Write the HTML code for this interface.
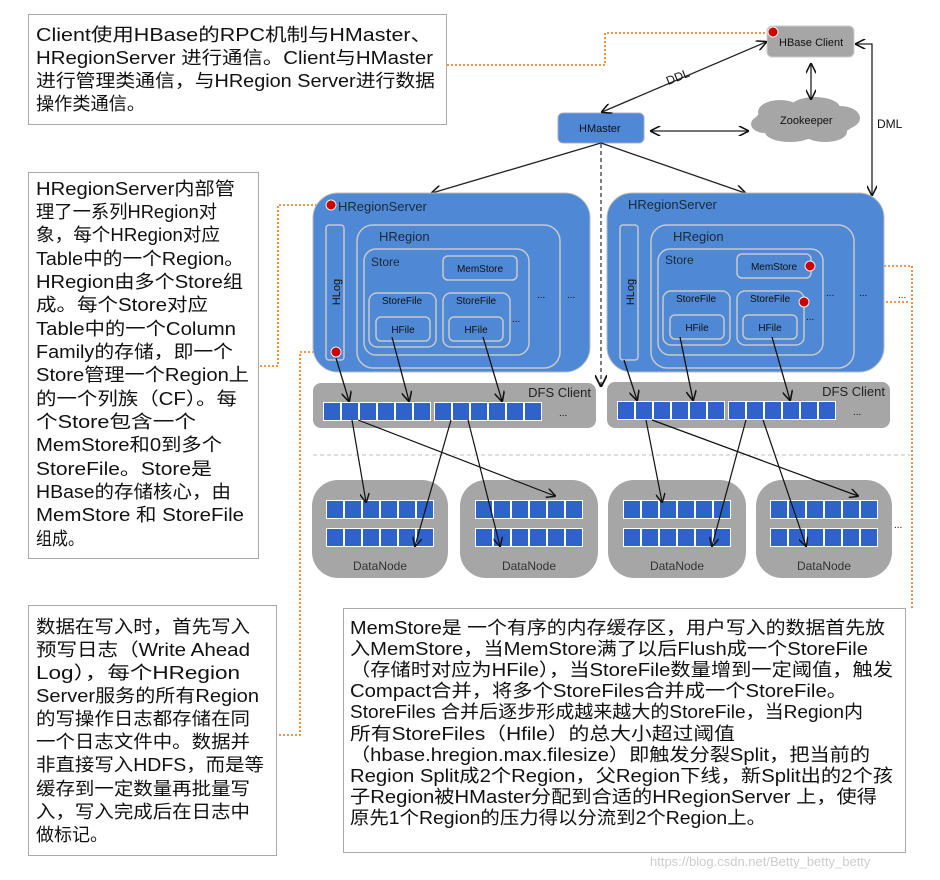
<!DOCTYPE html>
<html><head><meta charset="utf-8"><style>
html,body{margin:0;padding:0;background:#fff;}
svg{display:block;font-family:"Liberation Sans","Noto Sans CJK SC",sans-serif;}
.t{font-size:18px;fill:#111;}
.sm{font-size:10px;fill:#111;}
</style></head><body>
<svg width="940" height="880" viewBox="0 0 940 880" xmlns="http://www.w3.org/2000/svg">
<defs>
<marker id="a" viewBox="0 0 10 10" refX="9" refY="5" markerWidth="8" markerHeight="8" orient="auto-start-reverse"><path d="M0,0 L10,5 L0,10" fill="none" stroke="#111" stroke-width="1.5"/></marker>
<g id="blk">
<rect x="0" y="0" width="108" height="19" fill="#fff"/>
<g fill="#2f63c9"><rect x="1" y="1" width="16" height="17"/><rect x="19" y="1" width="16" height="17"/><rect x="37" y="1" width="16" height="17"/><rect x="55" y="1" width="16" height="17"/><rect x="73" y="1" width="16" height="17"/><rect x="91" y="1" width="16" height="17"/></g>
</g>
</defs>

<rect x="28.5" y="14.5" width="418" height="110" fill="#fff" stroke="#aaa"/>
<g class="t">
<text x="36" y="41" textLength="396" lengthAdjust="spacingAndGlyphs">Client使用HBase的RPC机制与HMaster、</text>
<text x="36" y="64" textLength="397" lengthAdjust="spacingAndGlyphs">HRegionServer 进行通信。Client与HMaster</text>
<text x="36" y="87" textLength="399" lengthAdjust="spacingAndGlyphs">进行管理类通信，与HRegion Server进行数据</text>
<text x="36" y="110" textLength="109" lengthAdjust="spacingAndGlyphs">操作类通信。</text>
</g>

<rect x="28.5" y="172.5" width="230" height="386" fill="#fff" stroke="#aaa"/>
<g class="t">
<text x="36" y="195" textLength="199" lengthAdjust="spacingAndGlyphs">HRegionServer内部管</text>
<text x="36" y="218" textLength="181" lengthAdjust="spacingAndGlyphs">理了一系列HRegion对</text>
<text x="36" y="241" textLength="184" lengthAdjust="spacingAndGlyphs">象，每个HRegion对应</text>
<text x="36" y="265" textLength="208" lengthAdjust="spacingAndGlyphs">Table中的一个Region。</text>
<text x="36" y="288" textLength="207" lengthAdjust="spacingAndGlyphs">HRegion由多个Store组</text>
<text x="36" y="311" textLength="172" lengthAdjust="spacingAndGlyphs">成。每个Store对应</text>
<text x="36" y="335" textLength="200" lengthAdjust="spacingAndGlyphs">Table中的一个Column</text>
<text x="36" y="358" textLength="197" lengthAdjust="spacingAndGlyphs">Family的存储，即一个</text>
<text x="36" y="381" textLength="213" lengthAdjust="spacingAndGlyphs">Store管理一个Region上</text>
<text x="36" y="405" textLength="201" lengthAdjust="spacingAndGlyphs">的一个列族（CF）。每</text>
<text x="36" y="428" textLength="160" lengthAdjust="spacingAndGlyphs">个Store包含一个</text>
<text x="36" y="451" textLength="186" lengthAdjust="spacingAndGlyphs">MemStore和0到多个</text>
<text x="36" y="475" textLength="176" lengthAdjust="spacingAndGlyphs">StoreFile。Store是</text>
<text x="36" y="498" textLength="195" lengthAdjust="spacingAndGlyphs">HBase的存储核心，由</text>
<text x="36" y="521" textLength="208" lengthAdjust="spacingAndGlyphs">MemStore 和 StoreFile</text>
<text x="36" y="545" textLength="48" lengthAdjust="spacingAndGlyphs">组成。</text>
</g>

<rect x="28.5" y="605.5" width="248" height="250" fill="#fff" stroke="#aaa"/>
<g class="t">
<text x="36" y="633" textLength="214" lengthAdjust="spacingAndGlyphs">数据在写入时，首先写入</text>
<text x="36" y="656" textLength="214" lengthAdjust="spacingAndGlyphs">预写日志（Write Ahead</text>
<text x="36" y="679" textLength="204" lengthAdjust="spacingAndGlyphs">Log），每个HRegion</text>
<text x="36" y="702" textLength="223" lengthAdjust="spacingAndGlyphs">Server服务的所有Region</text>
<text x="36" y="725" textLength="214" lengthAdjust="spacingAndGlyphs">的写操作日志都存储在同</text>
<text x="36" y="748" textLength="214" lengthAdjust="spacingAndGlyphs">一个日志文件中。数据并</text>
<text x="36" y="771" textLength="228" lengthAdjust="spacingAndGlyphs">非直接写入HDFS，而是等</text>
<text x="36" y="795" textLength="214" lengthAdjust="spacingAndGlyphs">缓存到一定数量再批量写</text>
<text x="36" y="818" textLength="214" lengthAdjust="spacingAndGlyphs">入，写入完成后在日志中</text>
<text x="36" y="841" textLength="72" lengthAdjust="spacingAndGlyphs">做标记。</text>
</g>

<rect x="343.5" y="608.5" width="562" height="244" fill="#fff" stroke="#aaa"/>
<g class="t">
<text x="350" y="634" textLength="535" lengthAdjust="spacingAndGlyphs">MemStore是 一个有序的内存缓存区，用户写入的数据首先放</text>
<text x="350" y="655" textLength="518" lengthAdjust="spacingAndGlyphs">入MemStore，当MemStore满了以后Flush成一个StoreFile</text>
<text x="350" y="676" textLength="543" lengthAdjust="spacingAndGlyphs">（存储时对应为HFile），当StoreFile数量增到一定阈值，触发</text>
<text x="350" y="697" textLength="497" lengthAdjust="spacingAndGlyphs">Compact合并，将多个StoreFiles合并成一个StoreFile。</text>
<text x="350" y="718" textLength="513" lengthAdjust="spacingAndGlyphs">StoreFiles 合并后逐步形成越来越大的StoreFile，当Region内</text>
<text x="350" y="740" textLength="385" lengthAdjust="spacingAndGlyphs">所有StoreFiles（Hfile）的总大小超过阈值</text>
<text x="350" y="761" textLength="520" lengthAdjust="spacingAndGlyphs">（hbase.hregion.max.filesize）即触发分裂Split，把当前的</text>
<text x="350" y="782" textLength="543" lengthAdjust="spacingAndGlyphs">Region Split成2个Region，父Region下线，新Split出的2个孩</text>
<text x="350" y="803" textLength="527" lengthAdjust="spacingAndGlyphs">子Region被HMaster分配到合适的HRegionServer 上，使得</text>
<text x="350" y="824" textLength="416" lengthAdjust="spacingAndGlyphs">原先1个Region的压力得以分流到2个Region上。</text>
</g>

<g fill="none" stroke="#e8731a" stroke-width="1.6" stroke-dasharray="2,2">
<path d="M447,65 H605 V33 H770"/>
<path d="M325,205 H278 V366 H259"/>
<path d="M330,352 H300 V735 H277"/>
<path d="M816,266 H912 V608"/>
<path d="M810,302 H910"/>
</g>

<rect x="767" y="26" width="87" height="31" rx="5" fill="#a6a6a6" stroke="#ccc"/>
<text x="779" y="46" font-size="11" fill="#111">HBase Client</text>
<circle cx="773" cy="32" r="5" fill="#c00" stroke="#eee"/>
<rect x="558" y="113" width="86" height="30" rx="5" fill="#4f88d4" stroke="#aac"/>
<text x="579" y="132" font-size="11" fill="#111">HMaster</text>
<g fill="#a6a6a6">
<ellipse cx="805" cy="121" rx="50" ry="18"/><ellipse cx="780" cy="112" rx="22" ry="12"/><ellipse cx="815" cy="108" rx="25" ry="11"/><ellipse cx="840" cy="118" rx="20" ry="12"/><ellipse cx="790" cy="132" rx="25" ry="10"/><ellipse cx="825" cy="132" rx="22" ry="10"/><ellipse cx="765" cy="124" rx="14" ry="9"/>
</g>
<text x="780" y="124" font-size="11" fill="#111">Zookeeper</text>

<g fill="none" stroke="#222" stroke-width="1.3">
<path d="M766,42 L602,112" marker-start="url(#a)" marker-end="url(#a)"/>
<path d="M811,64 V99" marker-start="url(#a)" marker-end="url(#a)"/>
<path d="M651,131 H748" marker-start="url(#a)" marker-end="url(#a)"/>
<path d="M856,44 H872 V195" marker-start="url(#a)" marker-end="url(#a)"/>
<path d="M601,143 L432,193" marker-end="url(#a)"/>
<path d="M601,143 L745,193" marker-end="url(#a)"/>
</g>
<path d="M601,144 V386" stroke="#555" stroke-width="1.5" stroke-dasharray="4,3" fill="none" marker-end="url(#a)"/>
<text x="666" y="82" font-size="12" fill="#111" transform="rotate(-22 675 78)">DDL</text>
<text x="877" y="128" font-size="12" fill="#111">DML</text>

<g>
<rect x="313" y="193" width="277" height="179" rx="25" fill="#4f88d4" stroke="#bbb"/>
<text x="338" y="211" font-size="13" fill="#1a2a3a">HRegionServer</text>
<rect x="326" y="225" width="18" height="135" rx="3" fill="none" stroke="#c8c8c8" stroke-width="1.5"/>
<text x="340" y="292" font-size="11" fill="#111" transform="rotate(-90 340 292)" text-anchor="middle">HLog</text>
<rect x="357" y="225" width="203" height="143" rx="16" fill="none" stroke="#c8c8c8" stroke-width="1.5"/>
<text x="379" y="241" font-size="13" fill="#1a2a3a">HRegion</text>
<rect x="364" y="249" width="165" height="106" rx="12" fill="none" stroke="#c8c8c8" stroke-width="1.5"/>
<text x="371" y="266" font-size="12" fill="#1a2a3a">Store</text>
<rect x="443" y="256" width="74" height="24" rx="5" fill="none" stroke="#c8c8c8" stroke-width="1.5"/>
<text x="480" y="272" class="sm" text-anchor="middle">MemStore</text>
<rect x="369" y="293" width="67" height="54" rx="8" fill="none" stroke="#c8c8c8" stroke-width="1.5"/>
<text x="402" y="304" class="sm" text-anchor="middle">StoreFile</text>
<rect x="376" y="317" width="54" height="24" rx="5" fill="none" stroke="#c8c8c8" stroke-width="1.5"/>
<text x="403" y="333" class="sm" text-anchor="middle">HFile</text>
<rect x="443" y="293" width="67" height="54" rx="8" fill="none" stroke="#c8c8c8" stroke-width="1.5"/>
<text x="476" y="304" class="sm" text-anchor="middle">StoreFile</text>
<rect x="449" y="317" width="54" height="24" rx="5" fill="none" stroke="#c8c8c8" stroke-width="1.5"/>
<text x="476" y="333" class="sm" text-anchor="middle">HFile</text>
<text x="512" y="322" class="sm">...</text>
<text x="537" y="298" class="sm">...</text>
<text x="567" y="298" class="sm">...</text>
<rect x="313" y="383" width="283" height="45" rx="8" fill="#a6a6a6"/>
<text x="591" y="397" font-size="13" fill="#222" text-anchor="end">DFS Client</text>
<use href="#blk" x="323" y="402"/>
<use href="#blk" x="434" y="402"/>
<text x="559" y="416" class="sm">...</text>
<g fill="none" stroke="#111" stroke-width="1.3">
<path d="M336,358 L349,401" marker-end="url(#a)"/>
<path d="M392,337 L409,401" marker-end="url(#a)"/>
<path d="M483,337 L502,401" marker-end="url(#a)"/>
</g>
</g>
<g transform="translate(294,0)">
<rect x="313" y="193" width="277" height="179" rx="25" fill="#4f88d4" stroke="#bbb"/>
<text x="334" y="209" font-size="13" fill="#1a2a3a">HRegionServer</text>
<rect x="326" y="225" width="18" height="135" rx="3" fill="none" stroke="#c8c8c8" stroke-width="1.5"/>
<text x="340" y="292" font-size="11" fill="#111" transform="rotate(-90 340 292)" text-anchor="middle">HLog</text>
<rect x="357" y="225" width="203" height="143" rx="16" fill="none" stroke="#c8c8c8" stroke-width="1.5"/>
<text x="379" y="241" font-size="13" fill="#1a2a3a">HRegion</text>
<rect x="364" y="249" width="165" height="106" rx="12" fill="none" stroke="#c8c8c8" stroke-width="1.5"/>
<text x="371" y="264" font-size="12" fill="#1a2a3a">Store</text>
<rect x="443" y="254" width="74" height="24" rx="5" fill="none" stroke="#c8c8c8" stroke-width="1.5"/>
<text x="480" y="270" class="sm" text-anchor="middle">MemStore</text>
<rect x="369" y="291" width="67" height="54" rx="8" fill="none" stroke="#c8c8c8" stroke-width="1.5"/>
<text x="402" y="302" class="sm" text-anchor="middle">StoreFile</text>
<rect x="376" y="315" width="54" height="24" rx="5" fill="none" stroke="#c8c8c8" stroke-width="1.5"/>
<text x="403" y="331" class="sm" text-anchor="middle">HFile</text>
<rect x="443" y="291" width="67" height="54" rx="8" fill="none" stroke="#c8c8c8" stroke-width="1.5"/>
<text x="476" y="302" class="sm" text-anchor="middle">StoreFile</text>
<rect x="449" y="315" width="54" height="24" rx="5" fill="none" stroke="#c8c8c8" stroke-width="1.5"/>
<text x="476" y="331" class="sm" text-anchor="middle">HFile</text>
<text x="512" y="320" class="sm">...</text>
<text x="532" y="296" class="sm">...</text>
<text x="565" y="296" class="sm">...</text>
<rect x="313" y="382" width="283" height="46" rx="8" fill="#a6a6a6"/>
<text x="591" y="396" font-size="13" fill="#222" text-anchor="end">DFS Client</text>
<use href="#blk" x="323" y="401"/>
<use href="#blk" x="434" y="401"/>
<text x="559" y="415" class="sm">...</text>
<g fill="none" stroke="#111" stroke-width="1.3">
<path d="M330,360 L343,400" marker-end="url(#a)"/>
<path d="M386,337 L399,400" marker-end="url(#a)"/>
<path d="M478,337 L496,400" marker-end="url(#a)"/>
</g>
</g>
<circle cx="331" cy="205" r="5" fill="#c00" stroke="#eee"/>
<circle cx="336" cy="352" r="5" fill="#c00" stroke="#eee"/>
<circle cx="810" cy="266" r="5" fill="#c00" stroke="#eee"/>
<circle cx="804" cy="302" r="5" fill="#c00" stroke="#eee"/>
<text x="898" y="298" class="sm">...</text>

<path d="M313,455 H910" stroke="#ccc" stroke-width="1.2" stroke-dasharray="4,3"/>

<g>
<rect x="312" y="480" width="136" height="98" rx="26" fill="#a6a6a6"/>
<use href="#blk" x="326" y="500"/><use href="#blk" x="326" y="528"/>
<text x="380" y="570" font-size="12" fill="#333" text-anchor="middle">DataNode</text>
<rect x="460" y="480" width="138" height="98" rx="26" fill="#a6a6a6"/>
<use href="#blk" x="475" y="500"/><use href="#blk" x="475" y="528"/>
<text x="529" y="570" font-size="12" fill="#333" text-anchor="middle">DataNode</text>
<rect x="608" y="480" width="138" height="98" rx="26" fill="#a6a6a6"/>
<use href="#blk" x="623" y="500"/><use href="#blk" x="623" y="528"/>
<text x="677" y="570" font-size="12" fill="#333" text-anchor="middle">DataNode</text>
<rect x="756" y="480" width="136" height="98" rx="26" fill="#a6a6a6"/>
<use href="#blk" x="770" y="500"/><use href="#blk" x="770" y="528"/>
<text x="824" y="570" font-size="12" fill="#333" text-anchor="middle">DataNode</text>
<text x="894" y="528" class="sm">...</text>
</g>
<g fill="none" stroke="#111" stroke-width="1.2">
<path d="M352,420 L366,502" marker-end="url(#a)"/>
<path d="M358,420 L555,496" marker-end="url(#a)"/>
<path d="M451,420 L415,546" marker-end="url(#a)"/>
<path d="M468,420 L500,546" marker-end="url(#a)"/>
<path d="M646,420 L662,502" marker-end="url(#a)"/>
<path d="M652,420 L858,496" marker-end="url(#a)"/>
<path d="M746,420 L712,546" marker-end="url(#a)"/>
<path d="M763,420 L806,546" marker-end="url(#a)"/>
</g>

<text x="650" y="866" font-size="13" fill="#ccc">https://blog.csdn.net/Betty_betty_betty</text>
</svg>
</body></html>
